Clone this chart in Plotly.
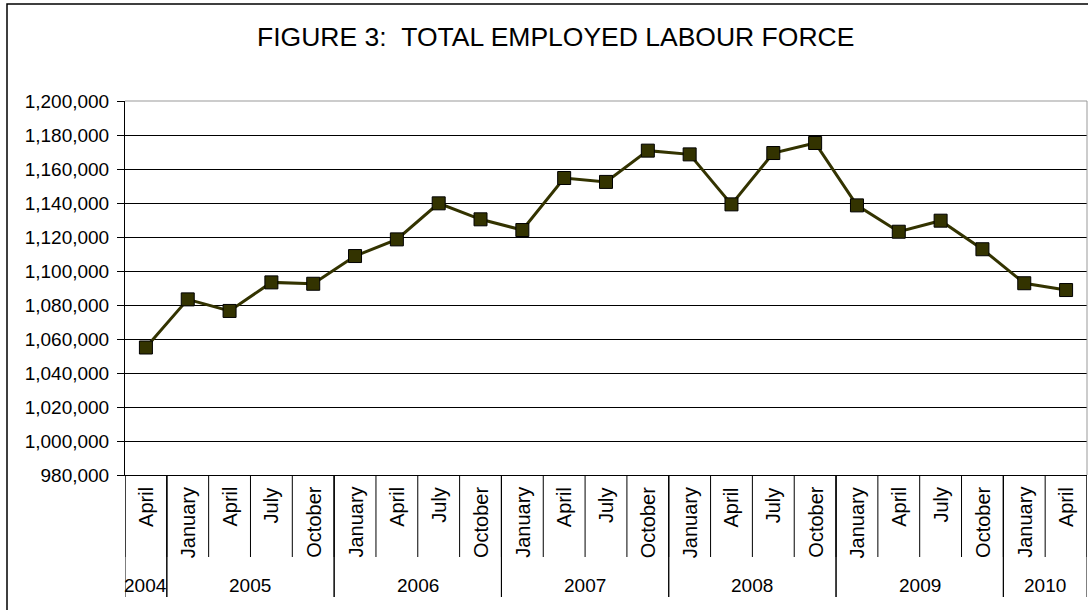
import plotly.graph_objects as go

# Quarterly survey periods and total employed labour force
months = ["April",
          "January", "April", "July", "October",
          "January", "April", "July", "October",
          "January", "April", "July", "October",
          "January", "April", "July", "October",
          "January", "April", "July", "October",
          "January", "April"]
years = [2004,
         2005, 2005, 2005, 2005,
         2006, 2006, 2006, 2006,
         2007, 2007, 2007, 2007,
         2008, 2008, 2008, 2008,
         2009, 2009, 2009, 2009,
         2010, 2010]
employed = [1055000,
            1083300, 1076500, 1093300, 1092500,
            1108800, 1118600, 1139800, 1130400,
            1124100, 1154700, 1152400, 1170800,
            1168600, 1139200, 1169400, 1175300,
            1138600, 1123100, 1129600, 1112800,
            1092800, 1088800]
y_ticks = list(range(980000, 1200001, 20000))

FONT = "Arial, Liberation Sans, sans-serif"
W, H = 1088, 610
L, R, T, B = 125, 1, 101, 135
plot_h = H - T - B


def py(px):
    """Convert a pixel row to paper y coordinate."""
    return (H - B - px) / plot_h


idx = list(range(len(employed)))

fig = go.Figure()
fig.add_trace(go.Scatter(
    x=idx, y=employed, mode="lines+markers",
    line=dict(color="#333300", width=3),
    marker=dict(symbol="square", size=13, color="#333300",
                line=dict(color="#000000", width=1)),
    hoverinfo="y", showlegend=False,
))

shapes = []
annotations = []

# month labels and short dividers between categories
for i, m in enumerate(months):
    annotations.append(dict(
        x=i, y=py(485), xref="x", yref="paper", text=m, textangle=-90,
        showarrow=False, xanchor="center", yanchor="top",
        font=dict(family=FONT, size=20, color="#000000"),
    ))
for i in range(len(months) + 1):
    shapes.append(dict(type="line", xref="x", yref="paper",
                       x0=i - 0.5, x1=i - 0.5, y0=0, y1=py(557),
                       line=dict(color="#000000", width=1)))

# year groups: labels centred on their span, long dividers at boundaries
groups = []
for i, yv in enumerate(years):
    if groups and groups[-1][0] == yv:
        groups[-1][2] = i
    else:
        groups.append([yv, i, i])
for yv, a, b in groups:
    annotations.append(dict(
        x=(a + b) / 2, y=py(585), xref="x", yref="paper", text=str(yv),
        showarrow=False, xanchor="center", yanchor="middle",
        font=dict(family=FONT, size=19, color="#000000"),
    ))
    for edge in (a - 0.5, b + 0.5):
        shapes.append(dict(type="line", xref="x", yref="paper",
                           x0=edge, x1=edge, y0=0, y1=py(597),
                           line=dict(color="#000000", width=1)))

# plot-area frame (top and right) in grey
shapes.append(dict(type="line", xref="paper", yref="paper", x0=0, x1=1, y0=1, y1=1,
                   line=dict(color="#999999", width=1)))
shapes.append(dict(type="line", xref="paper", yref="paper", x0=1, x1=1, y0=0, y1=1,
                   line=dict(color="#999999", width=1)))

# outer chart border
shapes.append(dict(type="rect", xref="paper", yref="paper",
                   x0=(7 - L) / (W - L - R), x1=1.05, y0=-0.6, y1=py(4),
                   line=dict(color="#000000", width=1.5), layer="below"))

# chart title
annotations.append(dict(
    x=(555.5 - L) / (W - L - R), y=py(37), xref="paper", yref="paper",
    text="FIGURE 3:\u00a0\u00a0TOTAL EMPLOYED LABOUR FORCE",
    showarrow=False, xanchor="center", yanchor="middle",
    font=dict(family=FONT, size=26.5, color="#000000"),
))

fig.update_layout(
    width=W, height=H,
    margin=dict(l=L, r=R, t=T, b=B, pad=0),
    paper_bgcolor="#ffffff", plot_bgcolor="#ffffff",
    font=dict(family=FONT, color="#000000"),
    shapes=shapes, annotations=annotations,
    xaxis=dict(range=[-0.5, len(employed) - 0.5], showticklabels=False,
               showgrid=False, zeroline=False, ticks="",
               showline=True, linecolor="#000000", linewidth=1, fixedrange=True),
    yaxis=dict(range=[y_ticks[0], y_ticks[-1]], tickvals=y_ticks, tickformat=",",
               showgrid=True, gridcolor="#000000", gridwidth=1, zeroline=False,
               showline=True, linecolor="#000000", linewidth=1,
               ticks="outside", ticklen=7, tickcolor="#000000",
               ticklabelstandoff=4,
               tickfont=dict(family=FONT, size=19, color="#000000"), fixedrange=True),
)

fig.write_html("out.html")
